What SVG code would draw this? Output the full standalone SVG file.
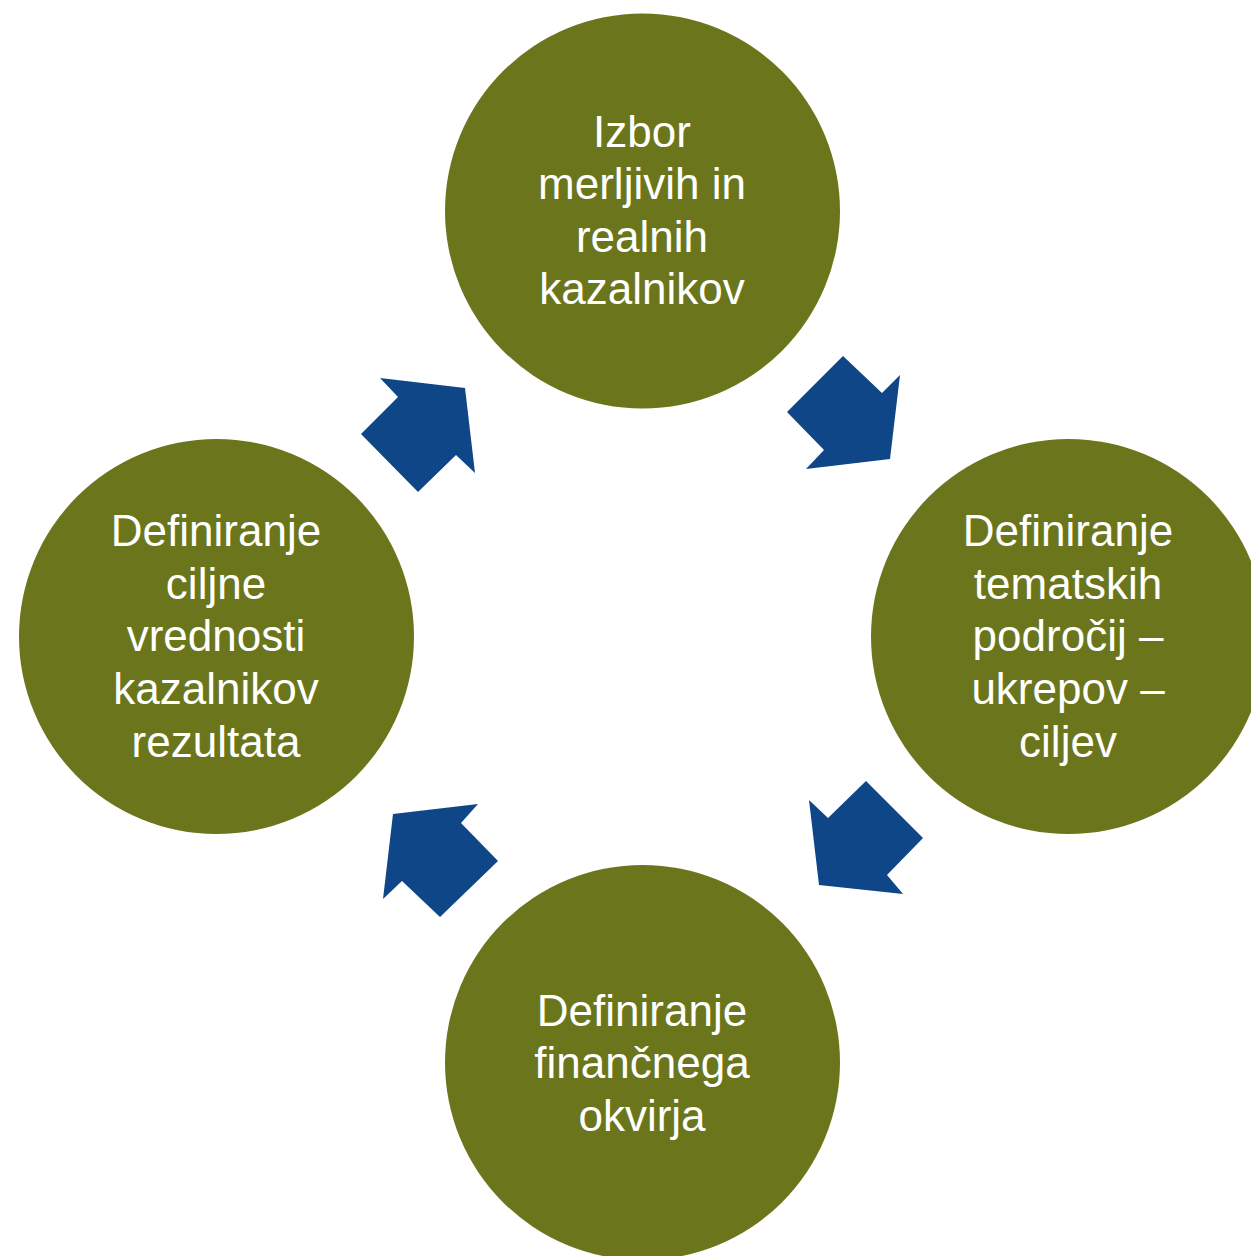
<svg xmlns="http://www.w3.org/2000/svg" width="1251" height="1256" viewBox="0 0 1251 1256">
<style>
.n{fill:#6B761C}
.t{fill:#fff;font-family:"Liberation Sans",Arial,sans-serif;font-size:44px;text-anchor:middle}
.a{fill:#0E4688}
</style>
<rect width="1251" height="1256" fill="#fff"/>
<g id="connectors">
<polygon class="a" points="843,356 882,393 900,375 890,459 806,469 824,450 787,412"/>
<polygon class="a" points="866,781 923,838 887,875 903,894 819,885 809,800 828,818"/>
<polygon class="a" points="478,804 461,823 498,861 440,917 402,881 383,899 393,814"/>
<polygon class="a" points="380,378 465,388 475,473 456,455 418,492 361,434 398,397"/>
</g>
<g id="node-top">
<circle class="n" cx="642.5" cy="211" r="197.5"/>
<text class="t"><tspan x="642" y="147">Izbor</tspan><tspan x="642" y="199">merljivih in</tspan><tspan x="642" y="252">realnih</tspan><tspan x="642" y="304">kazalnikov</tspan></text>
</g>
<g id="node-right">
<circle class="n" cx="1068.5" cy="636.5" r="197.5"/>
<text class="t"><tspan x="1068" y="546">Definiranje</tspan><tspan x="1068" y="599">tematskih</tspan><tspan x="1068" y="651">področij –</tspan><tspan x="1068" y="704">ukrepov –</tspan><tspan x="1068" y="757">ciljev</tspan></text>
</g>
<g id="node-bottom">
<circle class="n" cx="642.5" cy="1062.5" r="197.5"/>
<text class="t"><tspan x="642" y="1026">Definiranje</tspan><tspan x="642" y="1078">finančnega</tspan><tspan x="642" y="1131">okvirja</tspan></text>
</g>
<g id="node-left">
<circle class="n" cx="216.5" cy="636.5" r="197.5"/>
<text class="t"><tspan x="216" y="546">Definiranje</tspan><tspan x="216" y="599">ciljne</tspan><tspan x="216" y="651">vrednosti</tspan><tspan x="216" y="704">kazalnikov</tspan><tspan x="216" y="757">rezultata</tspan></text>
</g>
</svg>
